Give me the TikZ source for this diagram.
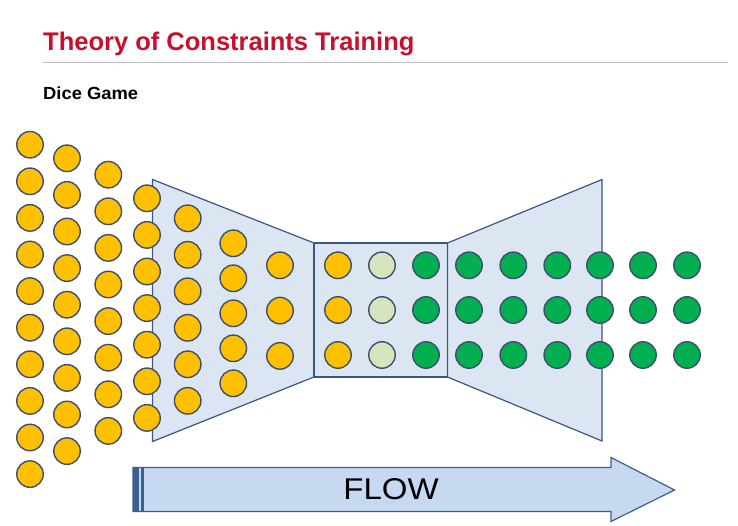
\documentclass[tikz,border=0pt]{standalone}
\usepackage{fontspec}
\setmainfont{Liberation Sans}
\usepackage{graphicx}
\usepackage{tikz}
\usepackage{xcolor}
\definecolor{toc-red}{HTML}{C8102E}
\definecolor{toc-rule}{HTML}{BFBFBF}
\definecolor{dice-edge}{HTML}{3F4F6E}
\definecolor{dice-yellow}{HTML}{FFC000}
\definecolor{dice-pale}{HTML}{D7E4BD}
\definecolor{dice-green}{HTML}{00B050}
\definecolor{funnel-edge}{HTML}{3B5784}
\definecolor{funnel-fill}{HTML}{DCE6F2}
\definecolor{flow-fill}{HTML}{C6D9F1}
\definecolor{flow-edge}{HTML}{3D5F8F}
\tikzset{
    dice/.style = {circle, draw=dice-edge, line width=1.4pt, minimum size=26.5pt, inner sep=0pt},
    dice-yellow/.style = {dice, fill=dice-yellow},
    dice-pale/.style = {dice, fill=dice-pale},
    dice-green/.style = {dice, fill=dice-green},
    funnel/.style = {draw=funnel-edge, fill=funnel-fill, line width=1.2pt, line join=miter},
    flow-arrow/.style = {draw=flow-edge, fill=flow-fill, line width=1.2pt, line join=miter},
    title-text/.style = {anchor=base west, inner sep=0pt, text=toc-red, font=\fontsize{25.5}{28}\selectfont\bfseries},
}

\begin{document}
\begin{tikzpicture}[x=1pt, y=-1pt]
\useasboundingbox (0,0) rectangle (738,526);

% heading
\node[title-text] (title) at (43,51) {Theory of Constraints Training};
\draw[toc-rule, line width=1pt] (title.base west |- 0,63) -- (728,63);
\node[anchor=base west, inner sep=0pt, font=\fontsize{17.5}{20}\selectfont\bfseries] (subtitle) at (43,100) {\scalebox{1.05}[1]{Dice Game}};

% funnel: wide in, narrow constraint, wide out
\draw[funnel] (152.5,179.5) -- (314,243) -- (314,377) -- (152.5,441.5) -- cycle;
\draw[funnel] (314,243) rectangle (447.5,377);
\draw[funnel] (447.5,243) -- (602,179.5) -- (602,441) -- (447.5,377) -- cycle;

% queue of work waiting in front of the constraint
\foreach \col/\x/\y/\n/\dy in {1/30/144.7/10/36.6, 2/67/158.3/9/36.6, 3/108.3/174.7/8/36.6,
        4/147/198.3/7/36.6, 5/187.7/218.3/6/36.5, 6/233.3/243.3/5/35, 7/280/265.3/3/45.3} {
    \foreach \row in {1,...,\n} {
        \node[dice-yellow] (y-\col-\row) at (\x, \y+\dy*\row-\dy) {};
    }
}

% through the constraint and out
\foreach \row/\y in {1/265.3, 2/310, 3/355} {
    \node[dice-yellow] (c-1-\row) at (338,\y) {};
    \node[dice-pale] (c-2-\row) at (382,\y) {};
    \node[dice-green] (c-3-\row) at (426,\y) {};
    \foreach \col/\x in {4/469, 5/513.3, 6/557.3, 7/600, 8/643, 9/687} {
        \node[dice-green] (g-\col-\row) at (\x,\y) {};
    }
}

% flow arrow
\draw[flow-arrow] (133,467.5) -- (611,467.5) -- (611,457.5) -- (674.5,490) -- (611,521.5) -- (611,511.5) -- (133,511.5) -- cycle;
\fill[flow-edge] (133,467.5) rectangle (139,511.5);
\fill[flow-edge] (141,467.5) rectangle (144,511.5);
\node[font=\fontsize{30}{34}\selectfont] (flow) at (391,489.5) {\scalebox{1.1}[1]{FLOW}};
\end{tikzpicture}
\end{document}
